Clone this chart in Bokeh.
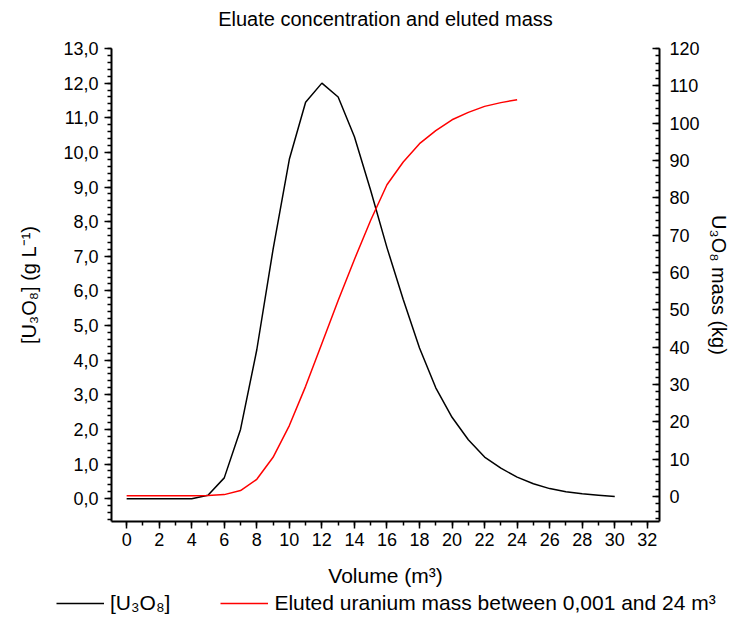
from bokeh.plotting import figure
from bokeh.layouts import column
from bokeh.models import (Range1d, LinearAxis, Legend, LegendItem, FixedTicker,
                          CustomJSTickFormatter)
from bokeh.embed import file_html
from bokeh.resources import INLINE

# ---- data ----
volume_conc = list(range(0, 31))
conc_u3o8 = [0.0, 0.0, 0.0, 0.0, 0.0, 0.1, 0.6, 2.0, 4.3, 7.2, 9.8, 11.45, 12.0,
             11.6, 10.45, 8.9, 7.25, 5.75, 4.35, 3.2, 2.35, 1.7, 1.2, 0.88, 0.62,
             0.43, 0.29, 0.2, 0.14, 0.1, 0.06]
volume_mass = list(range(0, 25))
mass_u3o8 = [0.2, 0.2, 0.2, 0.2, 0.2, 0.25, 0.5, 1.6, 4.6, 10.5, 19.0, 29.5, 41.0,
             52.5, 63.5, 74.0, 83.5, 89.6, 94.5, 98.0, 100.9, 102.9, 104.5, 105.5, 106.3]

x_ticks = list(range(0, 33, 2))
left_ticks = list(range(0, 14))
right_ticks = list(range(0, 121, 10))

title_text = "Eluate concentration and eluted mass"
x_label = "Volume (m³)"
left_label = "[U₃O₈] (g L⁻¹)"
right_label = "U₃O₈ mass (kg)"
legend_conc = "[U₃O₈]"
legend_mass = "Eluted uranium mass between 0,001 and 24 m³"

FONT = "Liberation Sans"
W = 741

# ---- title strip ----
pt = figure(width=W, height=36, output_backend="svg", toolbar_location=None,
            x_axis_location=None, y_axis_location=None, title=title_text,
            min_border_left=111, min_border_right=82, min_border_top=0, min_border_bottom=0,
            x_range=Range1d(0, 1), y_range=Range1d(0, 1))
pt.outline_line_color = None
pt.grid.visible = False
pt.title.align = "center"
pt.title.text_font = FONT
pt.title.text_font_size = "20px"
pt.title.text_font_style = "normal"
pt.title.text_color = "black"
pt.title.standoff = 10

# ---- main chart ----
p = figure(frame_width=548, frame_height=473, output_backend="svg", toolbar_location=None,
           x_range=Range1d(-0.93, 32.75), y_range=Range1d(-0.66, 13.0),
           min_border_left=111, min_border_right=82, min_border_top=12,
           min_border_bottom=68)
p.outline_line_color = None
p.grid.visible = False
p.background_fill_color = "white"
p.border_fill_color = "white"

p.extra_y_ranges = {"mass": Range1d(-6.7, 120)}

def style_axis(ax, tick_in, tick_out, mtick_in, mtick_out):
    ax.axis_line_width = 2
    ax.axis_line_color = "black"
    ax.major_tick_line_color = "black"
    ax.minor_tick_line_color = "black"
    ax.major_tick_line_width = 1.5
    ax.minor_tick_line_width = 1.5
    ax.major_tick_in = tick_in
    ax.major_tick_out = tick_out
    ax.minor_tick_in = mtick_in
    ax.minor_tick_out = mtick_out
    ax.major_label_text_font = FONT
    ax.major_label_text_font_size = "18px"
    ax.major_label_text_color = "black"
    ax.axis_label_text_font = FONT
    ax.axis_label_text_font_size = "20px"
    ax.axis_label_text_font_style = "normal"
    ax.axis_label_text_color = "black"

# x axis
xa = p.xaxis[0]
xa.ticker = FixedTicker(ticks=x_ticks, minor_ticks=list(range(0, 33)))
xa.axis_label = x_label
style_axis(xa, 0, 7, 0, 4)
xa.major_label_standoff = 4
xa.axis_label_standoff = 15
xa.axis_label_text_font_size = "21px"

# left axis
ya = p.yaxis[0]
ya.ticker = FixedTicker(ticks=left_ticks, minor_ticks=[i * 0.2 for i in range(-3, 66)])
ya.formatter = CustomJSTickFormatter(code="return tick.toFixed(1).replace('.', ',');")
ya.axis_label = left_label
style_axis(ya, 0, 7, 0, 4)
ya.major_label_standoff = 6
ya.axis_label_standoff = 20

# right axis
ra = LinearAxis(y_range_name="mass")
ra.ticker = FixedTicker(ticks=right_ticks, minor_ticks=list(range(-6, 121, 2)))
ra.axis_label = right_label
style_axis(ra, 7, 0, 4, 0)
ra.major_label_standoff = 10
ra.axis_label_standoff = 5
p.add_layout(ra, "right")

r_conc = p.line(volume_conc, conc_u3o8, line_color="black", line_width=1.5)
r_mass = p.line(volume_mass, mass_u3o8, line_color="red", line_width=1.5,
                y_range_name="mass")

# ---- legend strip ----
pl = figure(width=W, height=47, output_backend="svg", toolbar_location=None,
            x_axis_location=None, y_axis_location=None,
            min_border_left=0, min_border_right=0, min_border_top=0, min_border_bottom=0,
            x_range=Range1d(0, 1), y_range=Range1d(0, 1))
if "frame_align" in pl.properties():
    pl.frame_align = False
pl.outline_line_color = None
pl.grid.visible = False
lg_conc = pl.line(volume_conc, conc_u3o8, line_color="black", line_width=1.5, visible=False)
lg_mass = pl.line(volume_mass, mass_u3o8, line_color="red", line_width=1.5, visible=False)

legend = Legend(items=[LegendItem(label=legend_conc, renderers=[lg_conc]),
                       LegendItem(label=legend_mass, renderers=[lg_mass])],
                orientation="horizontal", location=(56, 21))
legend.label_text_font = FONT
legend.label_text_font_size = "21px"
legend.label_text_color = "black"
legend.glyph_width = 48
legend.label_standoff = 6
legend.spacing = 50
legend.padding = 0
legend.margin = 0
legend.border_line_color = None
legend.background_fill_alpha = 0
legend.inactive_fill_alpha = 0
legend.click_policy = "none"
pl.add_layout(legend, "center")

layout = column(pt, p, pl, spacing=0)
open("out.html", "w").write(file_html(layout, INLINE))
